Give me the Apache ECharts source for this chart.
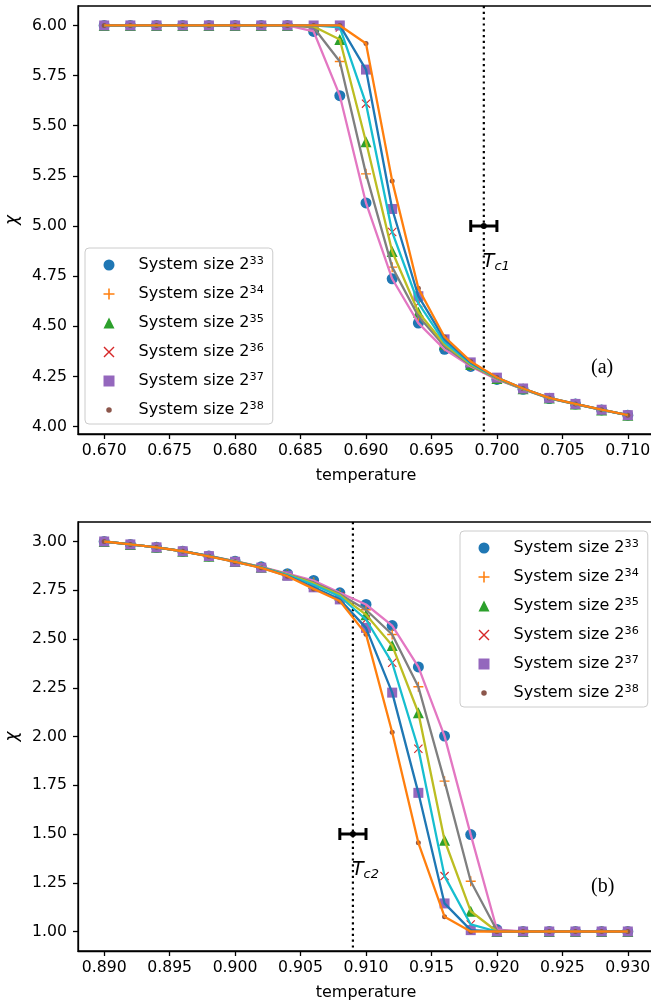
<!DOCTYPE html>
<html><head><meta charset="utf-8">
<script src="https://cdn.jsdelivr.net/npm/echarts@6/dist/echarts.min.js"></script>
<style>html,body{margin:0;padding:0;background:#fff}#c{width:651px;height:1001px}</style>
</head><body><div id="c"></div>
<script>
// ---------- data ----------
const sizeNames = ['System size 2^33','System size 2^34','System size 2^35','System size 2^36','System size 2^37','System size 2^38'];

const tempA = [0.670,0.672,0.674,0.676,0.678,0.680,0.682,0.684,0.686,0.688,0.690,0.692,0.694,0.696,0.698,0.700,0.702,0.704,0.706,0.708,0.710];
const chiA33 = [6,6,6,6,6,6,6,6,5.97,5.65,5.115,4.737,4.516,4.385,4.300,4.235,4.186,4.140,4.112,4.083,4.057];
const chiA34 = [6,6,6,6,6,6,6,6,5.99,5.82,5.26,4.795,4.550,4.400,4.305,4.238,4.187,4.141,4.112,4.083,4.057];
const chiA35 = [6,6,6,6,6,6,6,6,5.995,5.93,5.42,4.873,4.570,4.410,4.310,4.240,4.188,4.142,4.112,4.083,4.057];
const chiA36 = [6,6,6,6,6,6,6,6,6.0,5.99,5.61,4.970,4.615,4.420,4.315,4.242,4.189,4.142,4.113,4.083,4.057];
const chiA37 = [6,6,6,6,6,6,6,6,6.0,6.0,5.78,5.085,4.650,4.435,4.320,4.244,4.190,4.143,4.113,4.084,4.057];
const chiA38 = [6,6,6,6,6,6,6,6,6.0,6.0,5.91,5.225,4.690,4.447,4.325,4.245,4.190,4.143,4.113,4.084,4.057];

const tempB = [0.890,0.892,0.894,0.896,0.898,0.900,0.902,0.904,0.906,0.908,0.910,0.912,0.914,0.916,0.918,0.920,0.922,0.924,0.926,0.928,0.930];
const chiB33 = [3.00,2.985,2.97,2.95,2.926,2.899,2.870,2.835,2.800,2.737,2.677,2.569,2.357,2.002,1.497,1.010,1,1,1,1,1];
const chiB34 = [3.00,2.985,2.97,2.95,2.926,2.898,2.869,2.832,2.790,2.730,2.650,2.523,2.255,1.771,1.258,1.005,1,1,1,1,1];
const chiB35 = [3.00,2.985,2.97,2.95,2.925,2.898,2.868,2.830,2.785,2.725,2.625,2.467,2.122,1.468,1.104,1.000,1,1,1,1,1];
const chiB36 = [3.00,2.985,2.97,2.95,2.925,2.897,2.867,2.828,2.778,2.718,2.600,2.378,1.937,1.284,1.036,1.000,1,1,1,1,1];
const chiB37 = [3.00,2.985,2.97,2.95,2.925,2.896,2.866,2.824,2.765,2.703,2.557,2.225,1.711,1.144,1.007,1.000,1,1,1,1,1];
const chiB38 = [3.00,2.985,2.97,2.95,2.924,2.896,2.865,2.822,2.757,2.695,2.525,2.022,1.455,1.076,1.000,1.000,1,1,1,1,1];

const xTicksA = [0.670,0.675,0.680,0.685,0.690,0.695,0.700,0.705,0.710];
const yTicksA = [4.00,4.25,4.50,4.75,5.00,5.25,5.50,5.75,6.00];
const xTicksB = [0.890,0.895,0.900,0.905,0.910,0.915,0.920,0.925,0.930];
const yTicksB = [1.00,1.25,1.50,1.75,2.00,2.25,2.50,2.75,3.00];

const tcA = [0.699, 5.00, 0.001];   // Tc1 position, y of error bar, half width
const tcB = [0.909, 1.50, 0.001];   // Tc2
const tcLabels = ['c1','c2'];
const panelLabels = ['(a)','(b)'];

// ---------- style ----------
const FONT = 'DejaVu Sans';
const markerColors = ['#1f77b4','#ff7f0e','#2ca02c','#d62728','#9467bd','#8c564b'];
const lineColors   = ['#e377c2','#7f7f7f','#bcbd22','#17becf','#1f77b4','#ff7f0e'];
const PLUS = 'path://M4.3,0H5.7V4.3H10V5.7H5.7V10H4.3V5.7H0V4.3H4.3Z';
const CROSS = 'path://M0,0.9L0.9,0L10,9.1L9.1,10Z M9.1,0L10,0.9L0.9,10L0,9.1Z';
const DOT = 'path://M0,0M20,20M15,10A5,5 0 1 1 5,10A5,5 0 1 1 15,10Z';
const symbols = ['circle', PLUS, 'triangle', CROSS, 'rect', 'circle'];
const symSizes = [11, 10, 11, 9, 10, 5];
const legendIcons = ['circle', PLUS, 'triangle', CROSS, 'rect', DOT];

const seriesA = [chiA33, chiA34, chiA35, chiA36, chiA37, chiA38];
const seriesB = [chiB33, chiB34, chiB35, chiB36, chiB37, chiB38];

function zip(xs, ys){ return xs.map((x,i)=>[x, ys[i]]); }

function xAxisOf(gi, min, max, ticks){
  return {
    type:'value', gridIndex:gi, min:min, max:max,
    axisLine:{show:true, onZero:false, lineStyle:{color:'#000', width:1.3}},
    axisTick:{show:true, length:5, customValues:ticks, lineStyle:{color:'#000', width:1.3}},
    axisLabel:{customValues:ticks, formatter:v=>v.toFixed(3), color:'#000', fontSize:15.7, fontFamily:FONT, margin:9},
    splitLine:{show:false},
    name:'temperature', nameLocation:'middle', nameGap:34,
    nameTextStyle:{color:'#000', fontSize:16, fontFamily:FONT}
  };
}
function yAxisOf(gi, min, max, ticks){
  return {
    type:'value', gridIndex:gi, min:min, max:max,
    axisLine:{show:true, onZero:false, lineStyle:{color:'#000', width:1.3}},
    axisTick:{show:true, length:5, customValues:ticks, lineStyle:{color:'#000', width:1.3}},
    axisLabel:{customValues:ticks, formatter:v=>v.toFixed(2), color:'#000', fontSize:15.7, fontFamily:FONT, margin:11},
    splitLine:{show:false},
    name:'χ', nameLocation:'middle', nameGap:56,
    nameTextStyle:{color:'#000', fontSize:17, fontFamily:FONT, fontStyle:'italic'}
  };
}

function tcRender(params, api){
  const x = api.value(0), y = api.value(1), e = api.value(2);
  const cs = params.coordSys;
  const pl = api.coord([x - e, y]), pr = api.coord([x + e, y]), pc = api.coord([x, y]);
  const lab = tcLabels[params.seriesIndex === 0 ? 0 : 1];
  return {type:'group', children:[
    {type:'line', shape:{x1:pc[0], y1:cs.y, x2:pc[0], y2:cs.y + cs.height}, style:{stroke:'#000', lineWidth:2.2, lineDash:[2.2,3.6]}},
    {type:'line', shape:{x1:pl[0], y1:pl[1], x2:pr[0], y2:pr[1]}, style:{stroke:'#000', lineWidth:3}},
    {type:'line', shape:{x1:pl[0], y1:pl[1]-6, x2:pl[0], y2:pl[1]+6}, style:{stroke:'#000', lineWidth:3}},
    {type:'line', shape:{x1:pr[0], y1:pr[1]-6, x2:pr[0], y2:pr[1]+6}, style:{stroke:'#000', lineWidth:3}},
    {type:'circle', shape:{cx:pc[0], cy:pc[1], r:3}, style:{fill:'#000'}},
    {type:'text', x:pc[0] - 1, y:pc[1] + 36, style:{
      text:'{t|T}{s|' + lab + '}', verticalAlign:'middle', align:'left',
      rich:{
        t:{fontFamily:FONT, fontStyle:'italic', fontSize:19, fill:'#000', lineHeight:22},
        s:{fontFamily:FONT, fontStyle:'italic', fontSize:13, fill:'#000', lineHeight:22, verticalAlign:'bottom', padding:[0,0,0,0]}
      }}}
  ]};
}

const series = [];
series.push({type:'custom', name:'tcA', xAxisIndex:0, yAxisIndex:0, data:[tcA], renderItem:tcRender, clip:false, z:1, silent:true});
series.push({type:'custom', name:'tcB', xAxisIndex:1, yAxisIndex:1, data:[tcB], renderItem:tcRender, clip:false, z:1, silent:true});

[[tempA, seriesA, 0],[tempB, seriesB, 1]].forEach(([xs, ss, gi])=>{
  ss.forEach((ys, k)=>{
    series.push({type:'scatter', name:sizeNames[k], xAxisIndex:gi, yAxisIndex:gi, data:zip(xs, ys),
      symbol:symbols[k], symbolSize:symSizes[k], itemStyle:{color:markerColors[k], opacity:1}, z:2, silent:true});
  });
  ss.forEach((ys, k)=>{
    series.push({type:'line', name:'fit' + gi + k, xAxisIndex:gi, yAxisIndex:gi, data:zip(xs, ys),
      showSymbol:false, symbol:'none', lineStyle:{color:lineColors[k], width:2.3}, itemStyle:{color:lineColors[k]}, z:3, silent:true});
  });
});

function legendOf(left, top){
  return {
    orient:'vertical', left:left, top:top, itemWidth:11, itemHeight:11, itemGap:11,
    padding:[8, 9, 5, 18.5], backgroundColor:'rgba(255,255,255,0.8)', borderColor:'#cccccc', borderWidth:1, borderRadius:4,
    selectedMode:false,
    data:sizeNames.map((n,k)=>({name:n, icon:legendIcons[k]})),
    formatter:n=>{ const p = n.split('^'); return '{b|' + p[0] + '}{sup|' + p[1] + '}'; },
    textStyle:{color:'#000', fontFamily:FONT, fontSize:16, lineHeight:18,
      rich:{
        b:{fontFamily:FONT, fontSize:16, color:'#000', lineHeight:18, padding:[0,0,0,19]},
        sup:{fontFamily:FONT, fontSize:11.2, color:'#000', lineHeight:18, verticalAlign:'top'}
      }}
  };
}

const option = {
  animation:false,
  backgroundColor:'#fff',
  grid:[
    {left:78, top:6, width:576, height:428, show:true, borderColor:'#000', borderWidth:1.3, backgroundColor:'transparent', outerBoundsMode:'none', containLabel:false},
    {left:78, top:522, width:576, height:429, show:true, borderColor:'#000', borderWidth:1.3, backgroundColor:'transparent', outerBoundsMode:'none', containLabel:false}
  ],
  xAxis:[xAxisOf(0, 0.668, 0.712, xTicksA), xAxisOf(1, 0.888, 0.932, xTicksB)],
  yAxis:[yAxisOf(0, 3.963, 6.097, yTicksA), yAxisOf(1, 0.9, 3.1, yTicksB)],
  legend:[legendOf(85, 248), legendOf(460, 531)],
  graphic:[
    {type:'text', left:591, top:358, style:{text:panelLabels[0], font:'20px "Liberation Serif"', fill:'#000'}},
    {type:'text', left:591, top:877, style:{text:panelLabels[1], font:'20px "Liberation Serif"', fill:'#000'}}
  ],
  series:series
};

const chart = echarts.init(document.getElementById('c'), null, {renderer:'canvas'});
chart.setOption(option);
</script>
</body></html>
